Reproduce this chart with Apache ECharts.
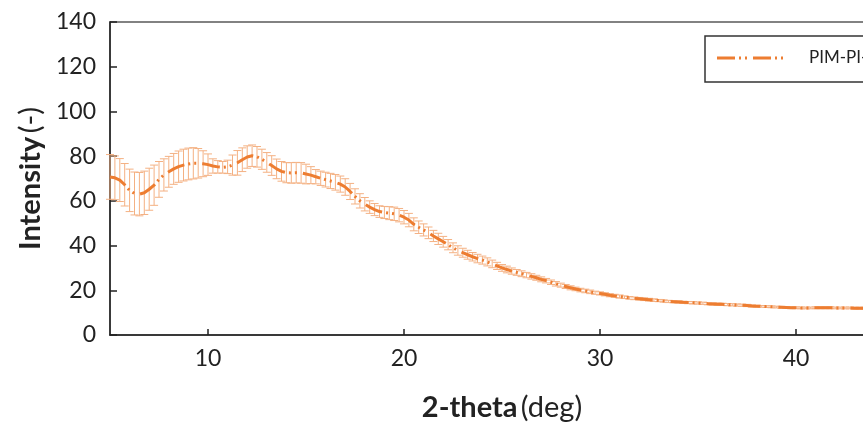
<!DOCTYPE html>
<html>
<head>
<meta charset="utf-8">
<script src="https://cdn.jsdelivr.net/npm/echarts@6.0.0/dist/echarts.min.js"></script>
<style>
html,body{margin:0;padding:0;background:#fff;}
#chart{width:863px;height:430px;}
</style>
</head>
<body>
<div id="chart"></div>
<script>
// 2-theta (deg)
var theta = [
  5.00,5.25,5.50,5.75,6.00,6.25,6.50,6.75,
  7.00,7.25,7.50,7.75,8.00,8.25,8.50,8.75,
  9.00,9.25,9.50,9.75,10.00,10.25,10.50,10.75,
  11.00,11.25,11.50,11.75,12.00,12.25,12.50,12.75,
  13.00,13.25,13.50,13.75,14.00,14.25,14.50,14.75,
  15.00,15.25,15.50,15.75,16.00,16.25,16.50,16.75,
  17.00,17.25,17.50,17.75,18.00,18.25,18.50,18.75,
  19.00,19.25,19.50,19.75,20.00,20.25,20.50,20.75,
  21.00,21.25,21.50,21.75,22.00,22.25,22.50,22.75,
  23.00,23.25,23.50,23.75,24.00,24.25,24.50,24.75,
  25.00,25.25,25.50,25.75,26.00,26.25,26.50,26.75,
  27.00,27.25,27.50,27.75,28.00,28.25,28.50,28.75,
  29.00,29.25,29.50,29.75,30.00,30.25,30.50,30.75,
  31.00,31.25,31.50,31.75,32.00,32.25,32.50,32.75,
  33.00,33.25,33.50,33.75,34.00,34.25,34.50,34.75,
  35.00,35.25,35.50,35.75,36.00,36.25,36.50,36.75,
  37.00,37.25,37.50,37.75,38.00,38.25,38.50,38.75,
  39.00,39.25,39.50,39.75,40.00,40.25,40.50,40.75,
  41.00,41.25,41.50,41.75,42.00,42.25,42.50,42.75,
  43.00,43.25,43.50,43.75,44.00,44.25,44.50,44.75,45.00
];
// mean intensity
var intensity = [
  70.7,70.3,69.3,67.2,64.7,63.3,63.0,63.6,
  65.2,67.0,69.6,71.6,73.0,74.3,75.3,76.0,
  76.5,76.8,76.8,76.6,76.2,75.6,75.2,75.0,
  75.2,76.0,77.0,78.4,79.6,80.2,79.7,78.6,
  77.2,75.8,74.3,73.2,72.6,72.5,72.6,72.5,
  72.0,71.5,70.8,70.1,69.5,68.9,68.3,67.5,
  66.2,64.2,62.0,60.0,58.5,57.2,56.1,55.2,
  54.8,54.5,54.2,53.6,52.7,51.4,49.5,48.2,
  47.0,45.7,44.3,43.0,41.7,40.4,39.0,37.8,
  36.8,35.9,35.0,34.2,33.5,32.7,31.8,30.9,
  30.0,29.3,28.6,28.0,27.4,26.8,26.2,25.6,
  24.9,24.3,23.6,22.9,22.3,21.7,21.1,20.6,
  20.1,19.7,19.3,18.9,18.6,18.2,17.8,17.5,
  17.2,16.9,16.6,16.4,16.2,16.0,15.8,15.6,
  15.4,15.2,15.0,14.9,14.8,14.6,14.5,14.4,
  14.3,14.2,14.0,13.9,13.8,13.7,13.6,13.5,
  13.4,13.3,13.2,13.0,12.9,12.8,12.7,12.6,
  12.5,12.4,12.3,12.2,12.2,12.1,12.1,12.1,
  12.2,12.2,12.2,12.2,12.1,12.1,12.1,12.1,
  12.0,12.0,12.0,12.0,12.0,12.0,12.0,12.0,12.0
];
// error (+/-)
var errorBar = [
  10.0,9.8,9.6,9.5,9.5,9.6,9.7,9.7,
  9.4,9.0,8.0,7.2,6.9,6.9,7.0,7.1,
  7.1,7.0,6.6,5.8,4.8,3.2,2.8,2.6,
  3.0,4.5,5.5,5.3,5.0,4.8,4.6,4.5,
  4.4,4.4,4.4,4.4,4.5,4.6,4.6,4.6,
  4.4,3.8,3.2,3.2,3.3,3.4,3.5,3.6,
  3.7,3.6,3.4,3.2,3.0,2.8,2.7,2.6,
  2.7,2.9,3.0,3.0,3.0,3.0,2.9,2.8,
  2.7,2.6,2.5,2.5,2.4,2.3,2.2,2.1,
  2.0,2.0,1.9,1.9,1.8,1.8,1.7,1.6,
  1.5,1.5,1.4,1.3,1.3,1.2,1.2,1.1,
  1.1,1.0,1.0,1.0,0.9,0.9,0.9,0.8,
  0.8,0.8,0.8,0.7,0.7,0.7,0.7,0.7,
  0.7,0.6,0.6,0.6,0.6,0.6,0.6,0.6,
  0.5,0.5,0.5,0.5,0.5,0.5,0.5,0.5,
  0.5,0.5,0.5,0.5,0.5,0.5,0.5,0.5,
  0.5,0.5,0.5,0.5,0.4,0.4,0.4,0.4,
  0.4,0.4,0.4,0.4,0.4,0.4,0.4,0.4,
  0.4,0.4,0.4,0.4,0.4,0.4,0.4,0.4,
  0.4,0.4,0.4,0.4,0.4,0.4,0.4,0.4,0.4
];
var xTickValues = [10, 20, 30, 40];
var seriesName = 'PIM-PI-1';

var lineData = theta.map(function (t, i) { return [t, intensity[i]]; });
var errData = theta.map(function (t, i) { return [t, intensity[i] - errorBar[i], intensity[i] + errorBar[i]]; });

var dashPattern = [18, 4, 2, 4, 2, 6];
var lineColor = '#ED7D31';
var errColor = '#F4B183';
var font = 'Lato, "Open Sans", sans-serif';

var chart = echarts.init(document.getElementById('chart'), null, {renderer: 'canvas'});
chart.setOption({
  animation: false,
  backgroundColor: '#fff',
  grid: {
    left: 110, top: 22, width: 784, height: 313,
    outerBoundsMode: 'none',
    show: true, borderColor: '#595959', borderWidth: 1.5, backgroundColor: 'transparent'
  },
  xAxis: {
    type: 'value', min: 5, max: 45,
    axisLine: {show: true, onZero: false, lineStyle: {color: '#222', width: 1.5}},
    axisTick: {show: true, inside: true, length: 6, customValues: xTickValues, lineStyle: {color: '#222', width: 1.5}},
    axisLabel: {show: true, customValues: xTickValues, margin: 12, fontSize: 23, color: '#222', fontFamily: font},
    splitLine: {show: false},
    name: '{b|2-theta} {n|(deg)}',
    nameLocation: 'middle', nameGap: 58,
    nameTextStyle: {
      rich: {
        b: {fontSize: 29, fontWeight: 'bold', color: '#222', fontFamily: font},
        n: {fontSize: 29, color: '#222', fontFamily: font}
      }
    }
  },
  yAxis: {
    type: 'value', min: 0, max: 140, interval: 20,
    axisLine: {show: true, lineStyle: {color: '#222', width: 1.5}},
    axisTick: {show: true, inside: true, length: 7, lineStyle: {color: '#222', width: 1.5}},
    axisLabel: {margin: 14, fontSize: 23, color: '#222', fontFamily: font},
    splitLine: {show: false},
    name: '{b|Intensity} {n|(-)}',
    nameLocation: 'middle', nameGap: 64, nameRotate: 90,
    nameTextStyle: {
      rich: {
        b: {fontSize: 29, fontWeight: 'bold', color: '#222', fontFamily: font},
        n: {fontSize: 29, color: '#222', fontFamily: font}
      }
    }
  },
  series: [
    {
      type: 'custom',
      name: 'error',
      data: errData,
      z: 1,
      renderItem: function (params, api) {
        var x = api.value(0);
        var lo = api.coord([x, api.value(1)]);
        var hi = api.coord([x, api.value(2)]);
        var hw = 4;
        var st = {stroke: errColor, lineWidth: 1};
        return {
          type: 'group',
          children: [
            {type: 'line', shape: {x1: hi[0], y1: hi[1], x2: lo[0], y2: lo[1]}, style: st},
            {type: 'line', shape: {x1: hi[0] - hw, y1: hi[1], x2: hi[0] + hw, y2: hi[1]}, style: st},
            {type: 'line', shape: {x1: lo[0] - hw, y1: lo[1], x2: lo[0] + hw, y2: lo[1]}, style: st}
          ]
        };
      }
    },
    {
      type: 'line',
      name: seriesName,
      data: lineData,
      z: 3,
      showSymbol: false,
      smooth: false,
      lineStyle: {color: lineColor, width: 3, type: dashPattern, cap: 'butt'}
    }
  ],
  graphic: [
    {type: 'rect', shape: {x: 705, y: 36, width: 200, height: 46}, style: {fill: '#fff', stroke: '#333', lineWidth: 1.5}, z: 10},
    {type: 'line', shape: {x1: 717, y1: 58, x2: 787, y2: 58}, style: {stroke: lineColor, lineWidth: 3, lineDash: dashPattern}, z: 11},
    {type: 'text', x: 809, y: 58, style: {text: seriesName, fontSize: 17, fill: '#222', fontFamily: font, verticalAlign: 'middle'}, z: 11}
  ]
});
</script>
</body>
</html>
